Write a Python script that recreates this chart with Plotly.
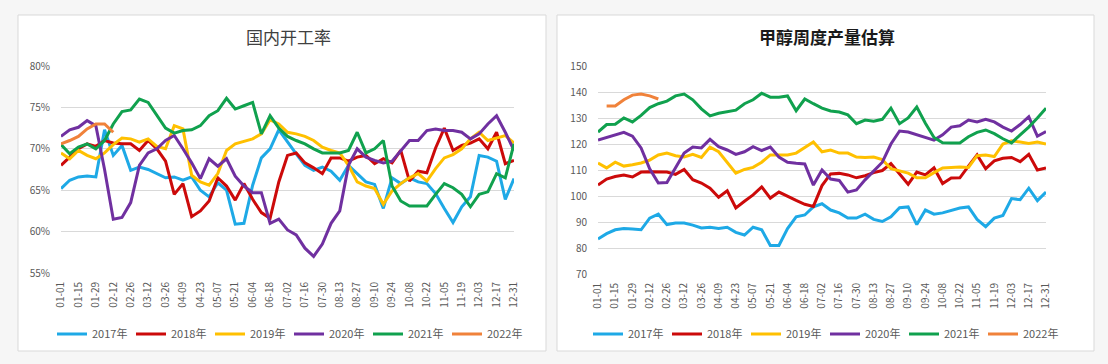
import plotly.graph_objects as go

W, H = 1108, 364

# ---------------- data ----------------
week_idx = list(range(53))
tick_idx = list(range(0, 53, 2))
tick_labels = ["01-01", "01-15", "01-29", "02-12", "02-26", "03-12", "03-26", "04-09", "04-23",
               "05-07", "05-21", "06-04", "06-18", "07-02", "07-16", "07-30", "08-13", "08-27",
               "09-10", "09-24", "10-08", "10-22", "11-05", "11-19", "12-03", "12-17", "12-31"]
years = ["2017年", "2018年", "2019年", "2020年", "2021年", "2022年"]

# 国内开工率 (%)
rate_2017 = [65.2, 66.2, 66.6, 66.7, 66.6, 72.3, 69.2, 70.4, 67.4, 67.8,
             67.5, 67.0, 66.5, 66.6, 66.2, 66.6, 65.0, 64.2, 65.9, 65.0,
             60.9, 61.0, 65.6, 68.9, 70.0, 72.3, 70.8, 69.4, 68.0, 67.4,
             67.8, 67.3, 66.2, 68.0, 67.0, 66.0, 65.7, 62.8, 66.5, 65.8,
             66.5, 66.0, 65.8, 64.6, 62.8, 61.1, 63.0, 64.2, 69.2, 69.0,
             68.5, 63.9, 66.4]
rate_2018 = [68.0, 69.0, 70.0, 70.6, 70.3, 71.0, 70.7, 70.6, 70.6, 69.8,
             71.0, 70.0, 68.5, 64.5, 65.8, 61.8, 62.5, 63.7, 66.5, 65.5,
             63.8, 65.8, 63.9, 62.3, 61.6, 66.0, 69.2, 69.5, 68.3, 67.7,
             67.0, 68.9, 68.9, 68.5, 69.0, 69.2, 68.2, 68.8, 68.3, 69.8,
             66.1, 67.3, 67.1, 70.1, 72.5, 69.8, 70.4, 70.7, 71.2, 70.0,
             72.0, 68.2, 68.6]
rate_2019 = [69.5, 68.8, 69.8, 69.2, 68.8, 69.5, 70.5, 71.3, 71.2, 70.8,
             71.2, 70.3, 70.0, 72.8, 72.4, 66.8, 66.0, 65.6, 67.0, 69.8,
             70.6, 70.9, 71.2, 71.8, 73.5, 73.0, 72.0, 71.8, 71.5, 71.0,
             70.2, 69.8, 69.5, 68.0, 66.0, 65.5, 65.2, 63.3, 64.9, 65.8,
             66.5, 67.0, 66.1, 67.6, 68.9, 69.3, 70.0, 71.2, 72.0, 71.0,
             71.3, 71.6, 70.7]
rate_2020 = [71.5, 72.3, 72.6, 73.4, 72.8, 67.5, 61.5, 61.7, 63.5, 68.0,
             69.5, 70.0, 71.0, 71.6, 70.0, 68.3, 66.4, 68.8, 67.9, 68.8,
             66.7, 65.5, 64.7, 64.7, 61.0, 61.5, 60.2, 59.6, 58.0, 57.0,
             58.5, 61.0, 62.5, 68.0, 70.0, 69.0, 68.6, 68.3, 68.5, 69.8,
             71.0, 71.0, 72.2, 72.4, 72.2, 72.2, 72.0, 71.2, 71.8, 73.0,
             74.0, 72.0, 69.8]
rate_2021 = [70.5, 69.4, 70.2, 70.6, 70.0, 71.0, 73.0, 74.5, 74.7, 76.0,
             75.6, 74.0, 72.5, 71.9, 72.2, 72.3, 72.8, 74.0, 74.6, 76.1,
             74.8, 75.2, 75.6, 71.8, 74.0, 72.5, 71.5, 71.0, 70.6, 70.0,
             69.5, 69.5, 69.5, 69.8, 72.0, 69.5, 70.0, 71.0, 65.5, 63.7,
             63.1, 63.1, 63.1, 64.5, 65.8, 65.3, 64.5, 63.0, 64.5, 64.8,
             67.0, 66.5, 70.6]
rate_2022 = [70.6, 71.0, 71.5, 72.4, 73.0, 73.0, 72.0] + [None] * 46

# 甲醇周度产量估算
out_2017 = [83.5, 85.5, 87.0, 87.5, 87.3, 87.0, 91.5, 93.0, 89.0, 89.6,
            89.6, 88.8, 87.7, 88.0, 87.5, 88.0, 86.0, 85.0, 88.0, 87.0,
            81.0, 81.0, 87.5, 92.0, 92.7, 95.8, 97.0, 94.6, 93.5, 91.5,
            91.5, 93.0, 91.0, 90.2, 92.0, 95.5, 95.8, 89.0, 94.6, 93.0,
            93.5, 94.5, 95.4, 95.8, 91.0, 88.2, 91.5, 92.5, 99.0, 98.6,
            103.0, 98.2, 101.5]
out_2018 = [104.2, 106.5, 107.5, 108.1, 107.3, 109.2, 109.3, 109.2, 109.2, 108.3,
            110.2, 106.3, 105.0, 103.0, 99.5, 102.0, 95.4, 98.0, 100.4, 103.5,
            99.2, 101.5, 99.8, 98.3, 96.8, 96.0, 104.0, 108.5, 108.7, 108.1,
            107.0, 107.8, 109.0, 109.8, 112.5, 108.5, 104.5, 109.2, 108.1, 110.8,
            104.8, 106.9, 107.0, 111.5, 115.8, 110.5, 113.5, 114.5, 114.8, 113.2,
            116.0, 110.0, 110.8]
out_2019 = [112.7, 110.8, 113.0, 111.5, 112.0, 112.7, 113.8, 115.8, 116.5, 115.5,
            115.0, 116.0, 114.8, 118.8, 117.0, 113.0, 108.8, 110.2, 111.0, 113.0,
            115.8, 115.8, 115.8, 116.5, 118.8, 120.8, 117.0, 117.7, 116.5, 116.5,
            115.0, 114.8, 115.0, 114.0, 110.5, 109.5, 108.8, 107.0, 107.0, 109.0,
            110.8, 111.0, 111.2, 111.0, 115.5, 115.8, 115.2, 120.0, 121.2, 120.8,
            120.2, 120.8, 120.0]
out_2020 = [121.5, 122.5, 123.5, 124.5, 123.0, 118.5, 110.5, 105.0, 105.2, 111.0,
            116.5, 118.8, 118.5, 121.8, 119.0, 117.7, 116.0, 117.0, 119.0, 117.5,
            118.8, 115.0, 113.0, 112.6, 112.3, 104.2, 110.0, 106.5, 106.0, 101.5,
            102.3, 106.2, 109.5, 113.0, 120.0, 125.0, 124.6, 123.5, 122.4, 121.5,
            123.5, 126.5, 127.0, 129.2, 128.5, 129.5, 128.5, 126.5, 125.0, 127.5,
            130.5, 123.0, 124.8]
out_2021 = [124.6, 127.5, 127.6, 130.0, 128.5, 131.0, 134.0, 135.5, 136.5, 138.5,
            139.2, 137.0, 133.5, 130.8, 131.8, 132.3, 133.0, 135.5, 137.0, 139.5,
            138.0, 138.0, 138.5, 132.8, 137.3, 135.5, 133.8, 132.7, 132.3, 131.2,
            127.8, 129.2, 128.8, 129.5, 133.8, 127.8, 130.0, 134.2, 128.0, 122.5,
            120.5, 120.4, 120.4, 122.8, 124.5, 125.4, 124.0, 122.0, 120.4, 123.5,
            126.5, 130.0, 133.8]
out_2022 = [None, 134.6, 134.6, 137.0, 138.8, 139.2, 138.5, 137.3] + [None] * 45

colors = ["#1ea9e6", "#cc0a0a", "#ffc000", "#7030a0", "#10a14e", "#f0823a"]

# ---------------- figure ----------------
FONT = "Noto Sans CJK SC, Noto Sans, sans-serif"
fig = go.Figure()

left_series = [rate_2017, rate_2018, rate_2019, rate_2020, rate_2021, rate_2022]
right_series = [out_2017, out_2018, out_2019, out_2020, out_2021, out_2022]

for name, ys, c in zip(years, left_series, colors):
    fig.add_trace(go.Scatter(x=week_idx, y=ys, mode="lines", name=name,
                             line=dict(color=c, width=3), xaxis="x", yaxis="y",
                             legend="legend", connectgaps=False, hoverinfo="skip"))
for name, ys, c in zip(years, right_series, colors):
    fig.add_trace(go.Scatter(x=week_idx, y=ys, mode="lines", name=name,
                             line=dict(color=c, width=3), xaxis="x2", yaxis="y2",
                             legend="legend2", connectgaps=False, hoverinfo="skip"))

def px(x):
    return x / W

def py(y):
    return 1 - y / H

xcommon = dict(range=[0, 52], tickmode="array", tickvals=tick_idx, ticktext=tick_labels,
               tickangle=-90, tickfont=dict(size=10, color="#595959", family=FONT),
               showgrid=False, zeroline=False, showline=False, ticks="",
               ticklabelstandoff=6, fixedrange=True, automargin=False)
ycommon = dict(gridcolor="#d9d9d9", gridwidth=1, zeroline=False, showline=False, ticks="",
               tickfont=dict(size=10, color="#595959", family=FONT), ticklabelstandoff=10,
               fixedrange=True, automargin=False)

legend_common = dict(orientation="h", xanchor="left", yanchor="middle",
                     font=dict(size=11, color="#595959", family=FONT), bgcolor="rgba(0,0,0,0)",
                     entrywidth=34, entrywidthmode="pixels", itemwidth=30,
                     traceorder="normal", tracegroupgap=0)

fig.update_layout(
    width=W, height=H,
    margin=dict(l=0, r=0, t=0, b=0, pad=0, autoexpand=False),
    paper_bgcolor="#f6f6f6",
    plot_bgcolor="rgba(0,0,0,0)",
    font=dict(family=FONT, color="#595959"),
    xaxis=dict(domain=[px(61), px(514)], anchor="y", **xcommon),
    yaxis=dict(domain=[py(273), py(66)], anchor="x", range=[55, 80],
               tickvals=[55, 60, 65, 70, 75, 80],
               ticktext=["55%", "60%", "65%", "70%", "75%", "80%"], **ycommon),
    xaxis2=dict(domain=[px(598), px(1046)], anchor="y2", **xcommon),
    yaxis2=dict(domain=[py(274), py(66)], anchor="x2", range=[70, 150],
                tickvals=[70, 80, 90, 100, 110, 120, 130, 140, 150], **ycommon),
    legend=dict(x=px(52), y=py(334), **legend_common),
    legend2=dict(x=px(588), y=py(334), **legend_common),
    shapes=[
        dict(type="rect", xref="paper", yref="paper", x0=px(18), x1=px(546), y0=py(351), y1=py(15),
             fillcolor="white", line=dict(color="#d9d9d9", width=1), layer="below"),
        dict(type="rect", xref="paper", yref="paper", x0=px(557), x1=px(1094), y0=py(351), y1=py(15),
             fillcolor="white", line=dict(color="#d9d9d9", width=1), layer="below"),
    ],
    annotations=[
        dict(text="国内开工率", xref="paper", yref="paper", x=px(288), y=py(37),
             xanchor="center", yanchor="middle", showarrow=False,
             font=dict(size=17, color="#404040", family=FONT)),
        dict(text="<b>甲醇周度产量估算</b>", xref="paper", yref="paper", x=px(827), y=py(37),
             xanchor="center", yanchor="middle", showarrow=False,
             font=dict(size=17, color="#1a1a1a", family=FONT)),
    ],
)

fig.write_html("out.html", config={"displayModeBar": False, "staticPlot": True},
               post_script="document.body.style.margin='0';document.body.style.background='#f6f6f6';")
